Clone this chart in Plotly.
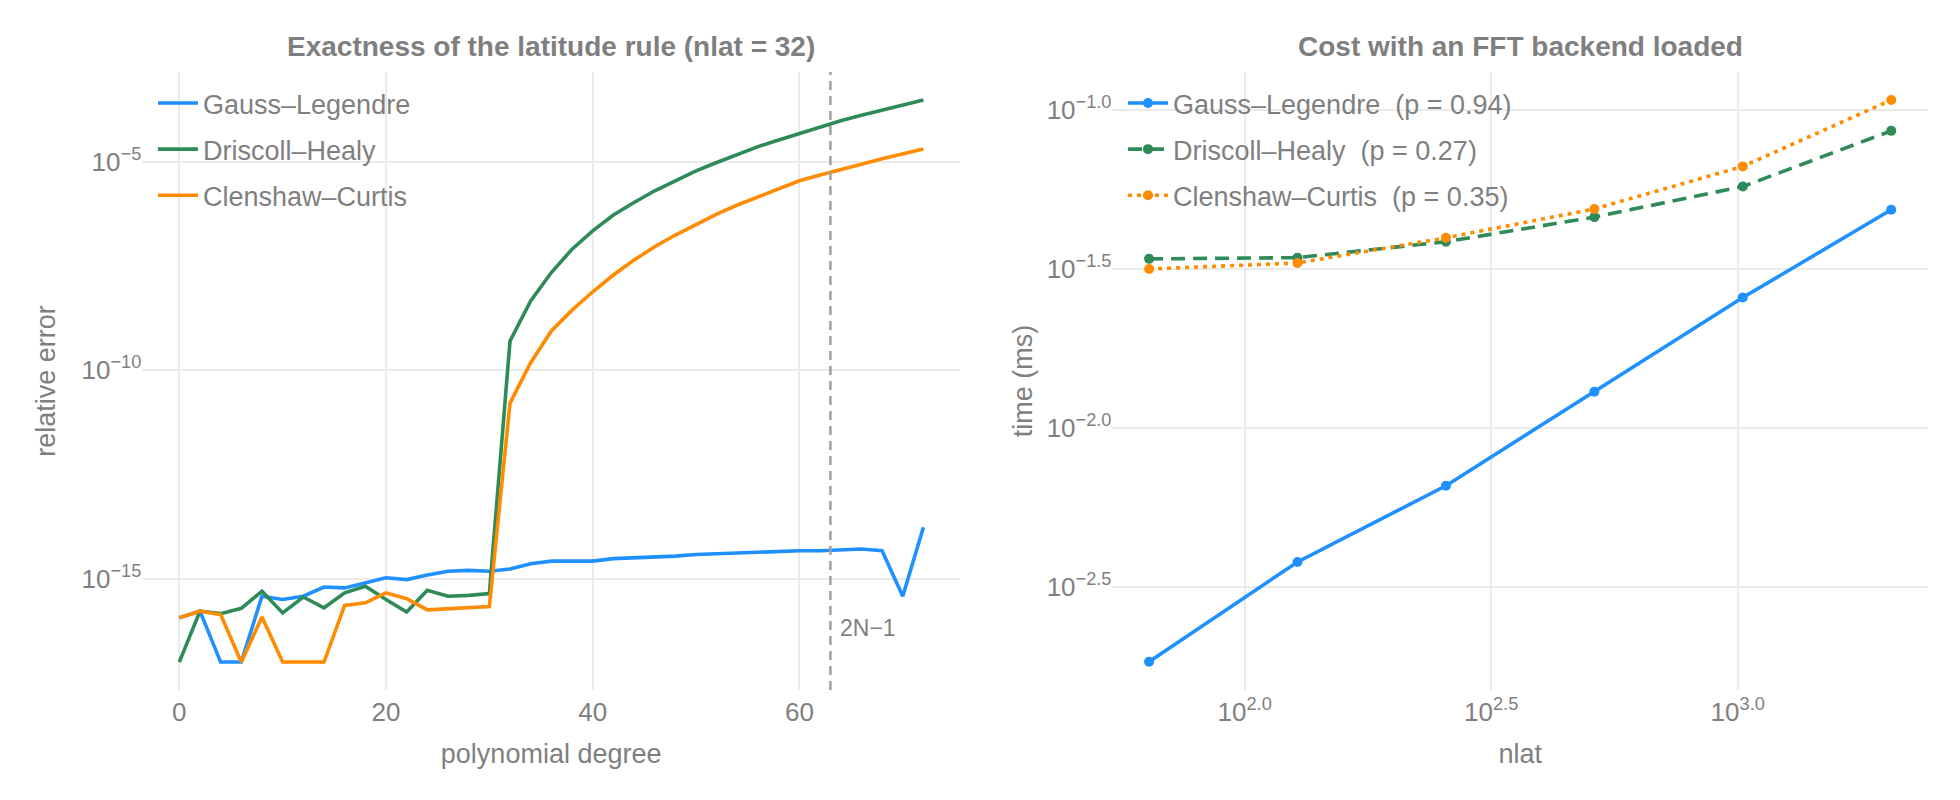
import plotly.graph_objects as go

# exactness test, nlat = 32
degrees = [0, 2, 4, 6, 8, 10, 12, 14, 16, 18, 20, 22, 24, 26, 28, 30, 32, 34, 36,
           38, 40, 42, 44, 46, 48, 50, 52, 54, 56, 58, 60, 62, 64, 66, 68, 70, 72]
err_gl = [1.15e-16, 1.66e-16, 1e-17, 1e-17, 3.8e-16, 3.16e-16, 3.8e-16, 6.3e-16, 6.0e-16,
          8.1e-16, 1.05e-15, 9.5e-16, 1.23e-15, 1.51e-15, 1.58e-15, 1.51e-15, 1.70e-15,
          2.29e-15, 2.63e-15, 2.63e-15, 2.63e-15, 3.02e-15, 3.16e-15, 3.24e-15, 3.47e-15,
          3.80e-15, 3.98e-15, 4.17e-15, 4.47e-15, 4.68e-15, 4.68e-15, 4.68e-15, 4.79e-15,
          5.13e-15, 4.68e-15, 3.8e-16, 1.70e-14]
err_dh = [1e-17, 1.66e-16, 1.45e-16, 1.95e-16, 5.0e-16, 1.51e-16, 3.63e-16, 2.0e-16, 4.57e-16,
          6.6e-16, 3.16e-16, 1.58e-16, 5.25e-16, 3.8e-16, 3.98e-16, 4.37e-16, 5.0e-10,
          4.57e-9, 2.19e-8, 7.94e-8, 2.19e-7, 5.25e-7, 1.05e-6, 2.0e-6, 3.47e-6, 6.03e-6,
          9.55e-6, 1.51e-5, 2.29e-5, 3.31e-5, 4.79e-5, 6.92e-5, 9.55e-5, 1.29e-4, 1.74e-4,
          2.29e-4, 3.02e-4]
err_cc = [1.15e-16, 1.66e-16, 1.38e-16, 1e-17, 1.2e-16, 1e-17, 1e-17, 1e-17, 2.29e-16,
          2.63e-16, 4.57e-16, 3.31e-16, 1.78e-16, 1.91e-16, 2.0e-16, 2.14e-16, 1.62e-11,
          1.51e-10, 8.7e-10, 2.75e-9, 7.59e-9, 1.91e-8, 4.37e-8, 9.12e-8, 1.74e-7, 3.16e-7,
          5.5e-7, 9.12e-7, 1.45e-6, 2.29e-6, 3.47e-6, 4.79e-6, 6.61e-6, 8.71e-6, 1.17e-5,
          1.55e-5, 2.0e-5]
exact_limit = 63  # 2N-1

# timings
nlat = [64, 128, 256, 512, 1024, 2048]
time_gl = [0.00184, 0.00379, 0.00658, 0.0130, 0.0257, 0.0485]
time_dh = [0.0340, 0.0343, 0.0385, 0.0460, 0.0574, 0.0859]
time_cc = [0.0316, 0.0330, 0.0396, 0.0488, 0.0664, 0.1074]
slopes = [0.94, 0.27, 0.35]

rules = ['Gauss\u2013Legendre', 'Driscoll\u2013Healy', 'Clenshaw\u2013Curtis']
colors = ['#1e90ff', '#2e8b57', '#ff8c00']

left_ticks = [-15, -10, -5]
right_yticks = [-2.5, -2.0, -1.5, -1.0]
right_xticks = [2.0, 2.5, 3.0]

FONT = 'Liberation Sans, Arial, Helvetica, sans-serif'
GRAY = '#7f7f7f'
GRID = '#ebebeb'


def sup(e, fmt):
    return '10<sup>' + (fmt % e).replace('-', '\u2212') + '</sup>'


fig = go.Figure()

for name, err, c in zip(rules, [err_gl, err_dh, err_cc], colors):
    fig.add_trace(go.Scatter(
        x=degrees, y=err, name=name, mode='lines', legendgroup=name,
        line=dict(color=c, width=3.6), xaxis='x', yaxis='y', legend='legend'))

dashes = ['solid', '14px,8px', '4px,5px']
for name, t, c, d, p in zip(rules, [time_gl, time_dh, time_cc], colors, dashes, slopes):
    fig.add_trace(go.Scatter(
        x=nlat, y=t, name='%s\u00a0 (p = %.2f)' % (name, p), mode='lines+markers',
        legendgroup='r' + name,
        line=dict(color=c, width=3.6, dash=d), marker=dict(color=c, size=10),
        xaxis='x2', yaxis='y2', legend='legend2'))

fig.add_shape(type='line', x0=exact_limit, x1=exact_limit, y0=0, y1=1,
              xref='x', yref='y domain', line=dict(color='#a0a0a0', width=2.5, dash='9px,6px'))
fig.add_annotation(x=exact_limit, y=0.076, xref='x', yref='y domain', text='2N\u22121',
                   showarrow=False, xanchor='left', xshift=8,
                   font=dict(size=23, color=GRAY, family=FONT))

titles = ['Exactness of the latitude rule (nlat = 32)', 'Cost with an FFT backend loaded']
for i, tt in enumerate(titles):
    fig.add_annotation(x=0.5, y=1 - 46 / 800, xref='x%s domain' % ('' if i == 0 else '2'),
                       yref='paper', yanchor='middle',
                       text='<b>%s</b>' % tt, showarrow=False,
                       font=dict(size=28, color=GRAY, family=FONT))

axis_common = dict(showgrid=True, gridcolor=GRID, gridwidth=1.6, zeroline=False,
                   showline=False, ticks='', tickfont=dict(size=26, color=GRAY, family=FONT),
                   title_font=dict(size=27, color=GRAY, family=FONT))

fig.update_layout(
    width=1960, height=800,
    margin=dict(l=0, r=0, t=0, b=0),
    paper_bgcolor='white', plot_bgcolor='white',
    font=dict(family=FONT, color=GRAY),
    xaxis=dict(domain=[0.0726, 0.4898], range=[-3.58, 75.54], tickvals=[0, 20, 40, 60],
               ticklabelstandoff=4,
               title=dict(text='polynomial degree', standoff=18), anchor='y', **axis_common),
    yaxis=dict(domain=[0.1375, 0.91], type='log', range=[-17.67, -2.85],
               tickvals=[10 ** e for e in left_ticks],
               ticktext=[sup(e, '%d') for e in left_ticks],
               title=dict(text='relative error', standoff=18), anchor='x', **axis_common),
    xaxis2=dict(domain=[0.5676, 0.9837], type='log', range=[1.732, 3.386],
                tickvals=[10 ** e for e in right_xticks],
                ticktext=[sup(e, '%.1f') for e in right_xticks],
                ticklabelstandoff=4,
                title=dict(text='nlat', standoff=18), anchor='y2', **axis_common),
    yaxis2=dict(domain=[0.1375, 0.91], type='log', range=[-2.824, -0.881],
                tickvals=[10 ** e for e in right_yticks],
                ticktext=[sup(e, '%.1f') for e in right_yticks],
                title=dict(text='time (ms)', standoff=6), anchor='x2', **axis_common),
    legend=dict(x=153 / 1960, y=1 - 79 / 800, xanchor='left', yanchor='top',
                bgcolor='rgba(0,0,0,0)', font=dict(size=27, color=GRAY, family=FONT),
                tracegroupgap=8, itemwidth=40),
    legend2=dict(x=1123 / 1960, y=1 - 79 / 800, xanchor='left', yanchor='top',
                 bgcolor='rgba(0,0,0,0)', font=dict(size=27, color=GRAY, family=FONT),
                 tracegroupgap=8, itemwidth=40),
)

fig.write_html('out.html', config={'displayModeBar': False},
               post_script="document.body.style.margin='0';")
